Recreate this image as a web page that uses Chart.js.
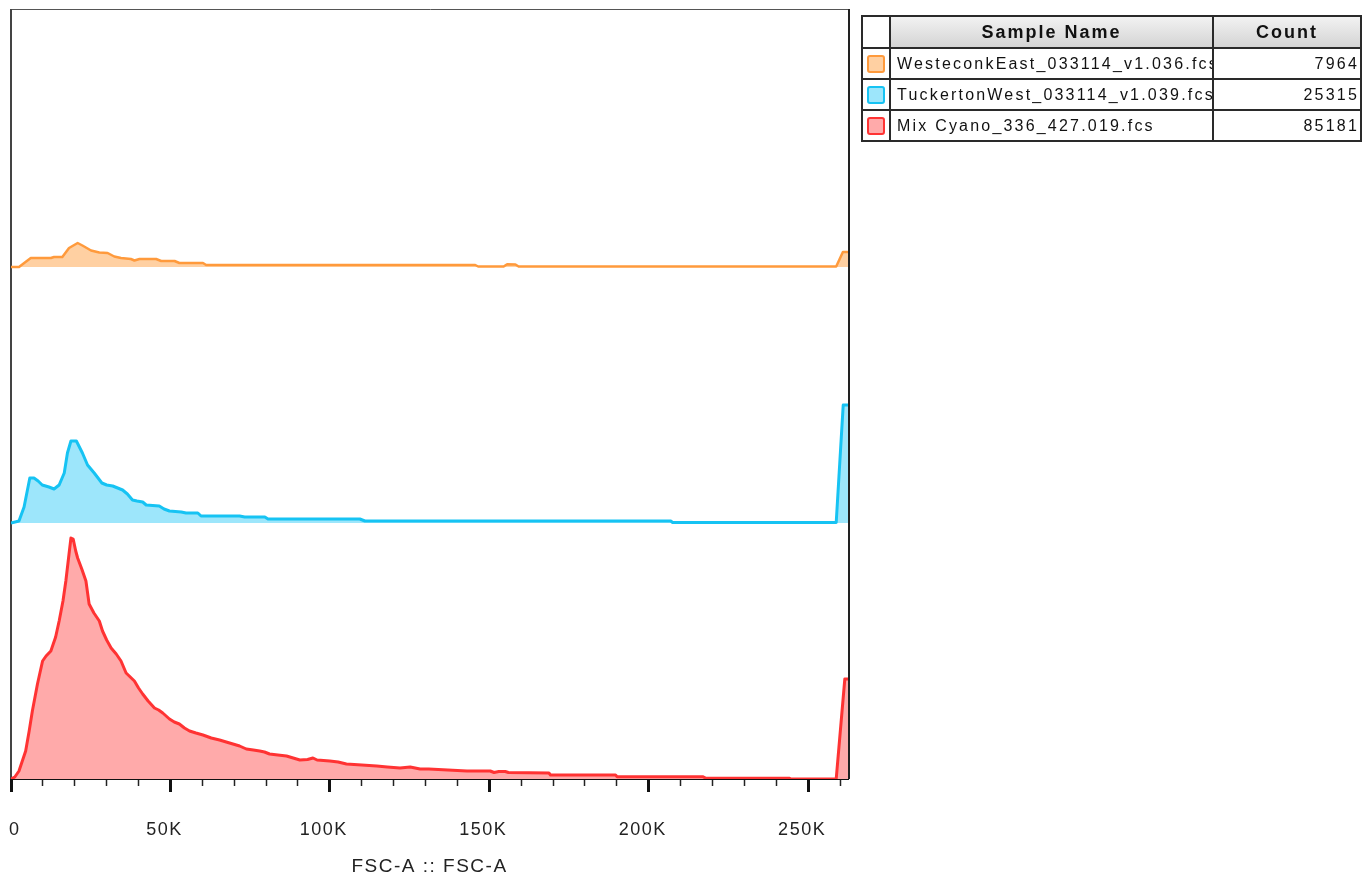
<!DOCTYPE html>
<html>
<head>
<meta charset="utf-8">
<script src="https://cdn.jsdelivr.net/npm/chart.js@4.4.0/dist/chart.umd.min.js"></script>
<style>
  body { margin: 0; background: #fff; }
  #wrap { position: relative; width: 1363px; height: 880px; }
  #histo { position: absolute; left: 0; top: 0; }
  #legendTable {
    position: absolute; left: 861px; top: 15px;
    width: 499px; table-layout: fixed; border-collapse: collapse;
    font-family: "Liberation Sans", Arial, sans-serif; color: #111;
  }
  #legendTable th, #legendTable td { border: 2px solid #2a2a2a; padding: 0; white-space: nowrap; overflow: hidden; }
  #legendTable th { height: 30px; background: linear-gradient(#f2f2f2, #d4d4d4); font-size: 18px; letter-spacing: 2px; }
  #legendTable th.blank { background: #fff; }
  #legendTable td { height: 29px; font-size: 16px; letter-spacing: 2.2px; }
  #legendTable td.name { padding-left: 6px; }
  #legendTable td.count { text-align: right; padding-right: 1px; }
  .swatch { width: 18px; height: 18px; box-sizing: border-box; border: 2px solid; border-radius: 3px; margin: 0 auto; }
</style>
</head>
<body>
<div id="wrap">
  <canvas id="histo" width="1363" height="880"></canvas>
  <table id="legendTable">
    <colgroup><col style="width:28px"><col style="width:323px"><col style="width:148px"></colgroup>
    <thead><tr><th class="blank"></th><th>Sample Name</th><th>Count</th></tr></thead>
    <tbody id="legendBody"></tbody>
  </table>
</div>
<script>
const sampleNames = ['WesteconkEast_033114_v1.036.fcs', 'TuckertonWest_033114_v1.039.fcs', 'Mix Cyano_336_427.019.fcs'];
const eventCounts = [7964, 25315, 85181];
const lineColors = ['#ff9a3c', '#16c3f3', '#ff3333'];
const fillColors = ['#ffd0a2', '#9de6fb', '#ffaaaa'];
const bandOffsets = [512, 256, 0]; // staggered overlay

// FSC-A (in K) and histogram height per sample
const westX = [0, 2.5, 6.2, 12.5, 13.5, 16.1, 18.2, 20.9, 22.4, 25.1, 27.7, 30.3, 32.4, 34.5, 37.6, 38.7, 40.3, 45.5, 47.1, 51.3, 52.8, 60.2, 61.2, 145.6, 146.5, 154.5, 155.6, 158.2, 159.2, 258.8, 260.9, 262.5];
const westY = [0, 0, 9, 9, 10, 10, 19, 24, 21.5, 16.5, 14.5, 14, 10.5, 9, 8, 6.5, 8, 8, 6, 6, 4, 4, 2, 2, 0.5, 0.5, 2.8, 2.5, 0.5, 0.5, 15, 15];

const tuckX = [0, 2.5, 4.1, 5.9, 7.2, 8.5, 9.8, 11.9, 13.5, 15.1, 16.7, 17.7, 18.8, 20.5, 22.4, 24, 26.1, 28.5, 30, 31.9, 35, 36.5, 38.1, 39.5, 41.3, 42.4, 46.5, 48, 49.7, 53.4, 54.9, 58.6, 59.6, 71.7, 73.3, 79.6, 80.6, 109.4, 111, 206.9, 207.5, 258.8, 261, 262.5];
const tuckY = [0, 2, 16, 45, 45, 42, 38, 36, 34, 38, 50, 70, 82, 82, 70, 58, 50, 40, 38, 37, 33, 29, 23, 22, 21, 18, 17, 14, 12, 11, 10, 10, 7, 7, 6, 6, 4, 4, 2, 2, 0.5, 0.5, 118, 118];

const mixX = [0, 1.2, 2.5, 4.6, 5.7, 6.7, 8.3, 9.9, 11, 12.5, 14, 15.1, 16.3, 17.2, 18.2, 18.8, 19.5, 20.3, 20.9, 22.2, 23.5, 24.5, 26, 27.7, 28.7, 30, 31.4, 33, 34.5, 36.1, 37.4, 38.7, 40, 41.3, 43, 45, 46.3, 47.6, 49.7, 51.2, 52.8, 54.4, 56, 58, 60.2, 62.8, 65.4, 67.5, 69.6, 71.7, 73.8, 76, 78, 79.5, 81.1, 83.7, 86.4, 88.5, 90.6, 93, 94.7, 96, 100, 102.6, 105.2, 110, 114.7, 118, 122, 125.2, 128.3, 131, 137, 143, 150.3, 151.5, 153, 155, 156, 168.7, 169.2, 189.6, 190.1, 216.9, 218, 244.2, 244.7, 258.8, 261.5, 262.5];
const mixY = [0, 2, 8, 28, 48, 68, 95, 118, 123, 128, 142, 158, 178, 198, 225, 241, 240, 228, 221, 210, 198, 175, 166, 158, 148, 139, 131, 125, 118, 106, 102, 98, 91, 85, 78, 71, 69, 66, 60, 57, 55, 51, 48, 46, 44, 41, 39, 37, 35, 33, 30, 29, 28, 27, 25, 24, 23, 21, 19, 19.5, 21, 19, 18, 17, 15, 14, 13, 12, 11, 12, 10, 10, 9, 8, 8, 6.5, 7.5, 7.5, 6.5, 6, 4, 4, 2.3, 2.3, 0.7, 0.7, 0, 0, 100, 100];

const seriesX = [westX, tuckX, mixX];
const seriesY = [westY, tuckY, mixY];

const axisMax = 262500;
const majorTicks = [0, 50000, 100000, 150000, 200000, 250000];
const majorLabels = ['   0', '50K', '100K', '150K', '200K', '250K']; // spaces nudge the 0 right like the original
const minorTicks = [0, 10000, 20000, 30000, 40000, 50000, 60000, 70000, 80000, 90000, 100000, 110000, 120000, 130000,
    140000, 150000, 160000, 170000, 180000, 190000, 200000, 210000, 220000, 230000, 240000, 250000, 260000];
const axisTitle = 'FSC-A :: FSC-A';

// legend table
const body = document.getElementById('legendBody');
sampleNames.forEach((name, i) => {
    const tr = document.createElement('tr');
    tr.innerHTML = '<td><div class="swatch" style="background:' + fillColors[i] + ';border-color:' + lineColors[i] + '"></div></td>' +
        '<td class="name">' + name + '</td><td class="count">' + eventCounts[i] + '</td>';
    body.appendChild(tr);
});

const framePlugin = {
    id: 'frame',
    beforeDraw: function(chart) {
        chart.ctx.letterSpacing = '1.5px'; // labels look spaced out
    },
    beforeDatasetsDraw: function(chart) {
        const ctx = chart.ctx;
        const a = chart.chartArea;
        ctx.save();
        ctx.strokeStyle = '#555';
        ctx.lineWidth = 1;
        ctx.beginPath();
        ctx.moveTo(a.left, a.top - 0.5);
        ctx.lineTo(a.right + 2, a.top - 0.5);
        ctx.stroke();
        ctx.lineWidth = 2;
        ctx.strokeStyle = '#444';
        ctx.beginPath();
        ctx.moveTo(a.left, a.top - 1);
        ctx.lineTo(a.left, a.bottom);
        ctx.stroke();
        ctx.strokeStyle = '#222';
        ctx.beginPath();
        ctx.moveTo(a.right + 1, a.top - 1);
        ctx.lineTo(a.right + 1, a.bottom);
        ctx.stroke();
        ctx.restore();
    }
};

function noSidePadding(scale) {
    scale.paddingLeft = 0;
    scale.paddingRight = 0;
}

const ctx = document.getElementById('histo').getContext('2d');
const chart = new Chart(ctx, {
    type: 'line',
    data: {
        datasets: sampleNames.map((name, i) => ({
            label: name,
            data: seriesX[i].map((x, j) => ({ x: x * 1000, y: bandOffsets[i] + seriesY[i][j] })),
            borderColor: lineColors[i],
            backgroundColor: fillColors[i],
            borderWidth: i === 0 ? 2.5 : 3,
            fill: { value: bandOffsets[i] },
            pointRadius: 0,
            tension: 0,
            borderJoinStyle: 'round'
        }))
    },
    options: {
        responsive: false,
        animation: false,
        layout: { padding: { left: 11, right: 515, top: 10, bottom: 0 } },
        plugins: {
            legend: { display: false },
            tooltip: { enabled: false }
        },
        scales: {
            y: { display: false, min: 0, max: 769 },
            xMinor: {
                type: 'linear',
                position: 'bottom',
                weight: 0,
                min: 0,
                max: axisMax,
                border: { display: false },
                grid: { drawOnChartArea: false, tickLength: 7, tickWidth: 1.5, tickColor: '#222' },
                ticks: { display: false, padding: 0 },
                afterBuildTicks: function(scale) { scale.ticks = minorTicks.map(v => ({ value: v })); },
                afterFit: function(scale) { scale.height = 0; noSidePadding(scale); }
            },
            x: {
                type: 'linear',
                position: 'bottom',
                weight: 1,
                min: 0,
                max: axisMax,
                border: { display: true, color: '#111', width: 2 },
                grid: { drawOnChartArea: false, tickLength: 13, tickWidth: 3, tickColor: '#111' },
                ticks: {
                    maxRotation: 0,
                    autoSkip: false,
                    padding: 27,
                    labelOffset: -6,
                    color: '#222',
                    font: { family: '"Liberation Sans", Arial, sans-serif', size: 18 },
                    callback: (v, idx) => majorLabels[majorTicks.indexOf(v)]
                },
                afterBuildTicks: function(scale) { scale.ticks = majorTicks.map(v => ({ value: v })); },
                title: {
                    display: true,
                    text: axisTitle,
                    color: '#222',
                    font: { family: '"Liberation Sans", Arial, sans-serif', size: 19 },
                    padding: { top: 0, bottom: 2 }
                },
                afterFit: function(scale) { scale.height = 101; noSidePadding(scale); }
            }
        }
    },
    plugins: [framePlugin]
});
</script>
</body>
</html>
